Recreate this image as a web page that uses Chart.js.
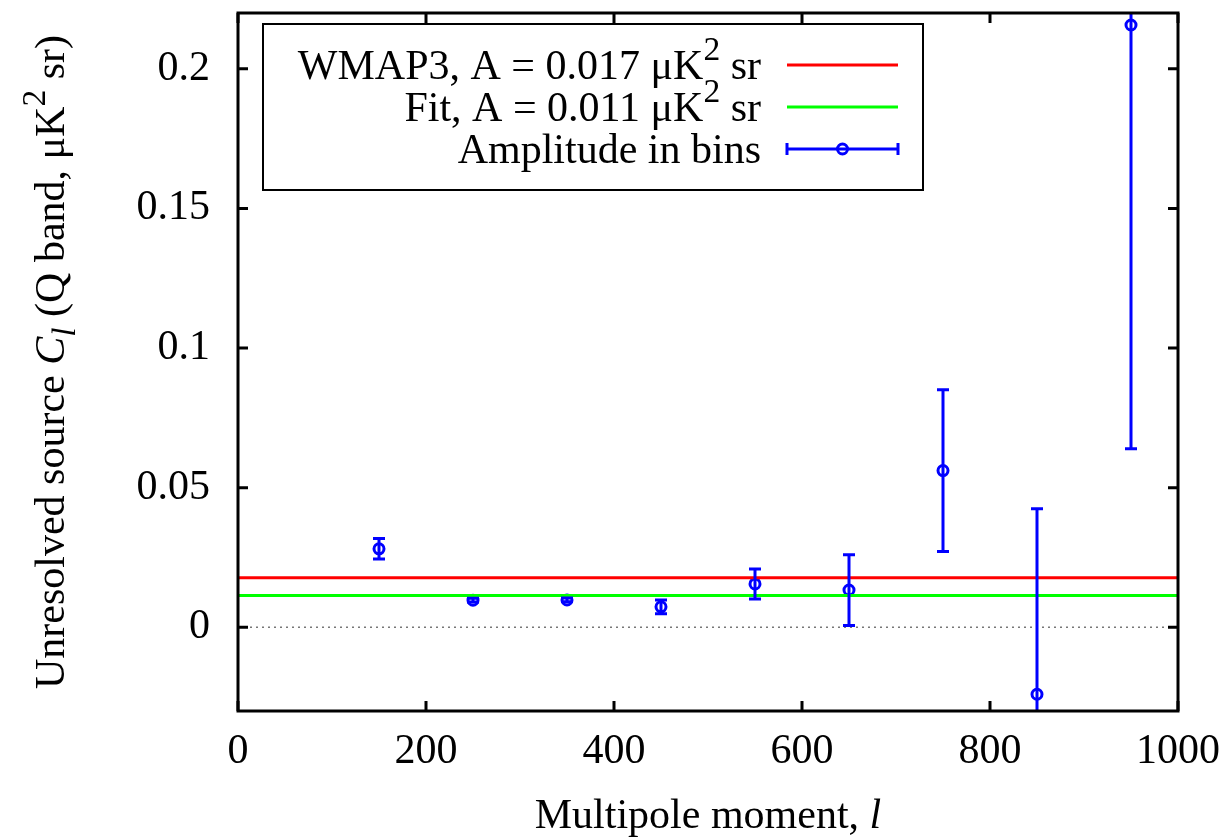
<!DOCTYPE html>
<html>
<head>
<meta charset="utf-8">
<script src="https://cdn.jsdelivr.net/npm/chart.js@4/dist/chart.umd.min.js"></script>
<style>
html,body{margin:0;padding:0;background:#fff;}
#wrap{width:1228px;height:839px;position:relative;}
</style>
</head>
<body>
<div id="wrap"><canvas id="c"></canvas></div>
<script>
// ---- data ----
const multipoles = [150, 250, 350, 450, 550, 650, 750, 850, 950];
const amplitudes = [0.0281, 0.0097, 0.0098, 0.0073, 0.0155, 0.0133, 0.0561, -0.0240, 0.2157];
const errors     = [0.0037, 0.0007, 0.0007, 0.0025, 0.0054, 0.0127, 0.0290, 0.0664, 0.1518];
const wmap3Level = 0.0177;
const fitLevel   = 0.0114;
const xRange = [0, 1000];
const yRange = [-0.03, 0.22];
const xTicks = [0, 200, 400, 600, 800, 1000];
const yTicks = [0, 0.05, 0.1, 0.15, 0.2];

// rich text pieces (i = italic; sup/sub positions)
const xTitle = [{t:'Multipole moment, '}, {t:'l', s:'i'}];
const yTitle = [{t:'Unresolved source '}, {t:'C', s:'i'}, {t:'l', s:'i', p:'sub'},
                {t:' (Q band, \u03BCK'}, {t:'2', p:'sup'}, {t:' sr)'}];
const legendRows = [
  {segs:[{t:'WMAP3, A = 0.017 \u03BCK'}, {t:'2', p:'sup'}, {t:' sr'}], color:'#ff0000', kind:'line'},
  {segs:[{t:'Fit, A = 0.011 \u03BCK'}, {t:'2', p:'sup'}, {t:' sr'}], color:'#00ff00', kind:'line'},
  {segs:[{t:'Amplitude in bins'}], color:'#0000ff', kind:'err'}
];

const FAMILY = '"Liberation Serif", "Times New Roman", serif';
const FS = 42;

function segFont(s, size){
  const sz = (s.p === 'sup' || s.p === 'sub') ? size * 0.8 : size;
  return (s.s === 'i' ? 'italic ' : '') + sz + 'px ' + FAMILY;
}
function richWidth(ctx, segs, size){
  let w = 0;
  for (const s of segs){ ctx.font = segFont(s, size); w += ctx.measureText(s.t).width; }
  return w;
}
function drawRich(ctx, segs, x, y, size, align){
  const w = richWidth(ctx, segs, size);
  let cx = align === 'right' ? x - w : (align === 'center' ? x - w / 2 : x);
  ctx.textBaseline = 'alphabetic';
  ctx.textAlign = 'left';
  for (const s of segs){
    ctx.font = segFont(s, size);
    const dy = s.p === 'sup' ? -0.45 * size : (s.p === 'sub' ? 0.25 * size : 0);
    ctx.fillText(s.t, cx, y + dy);
    cx += ctx.measureText(s.t).width;
  }
}

const decor = {
  id: 'decor',
  afterDatasetsDraw(chart){
    const ctx = chart.ctx, a = chart.chartArea;
    const xs = chart.scales.x, ys = chart.scales.y;
    ctx.save();
    ctx.beginPath();
    ctx.rect(a.left, a.top, a.right - a.left, a.bottom - a.top);
    ctx.clip();
    ctx.strokeStyle = '#0000ff';
    ctx.lineWidth = 3;
    const cap = 6;
    for (let i = 0; i < multipoles.length; i++){
      const px = xs.getPixelForValue(multipoles[i]);
      const y1 = ys.getPixelForValue(amplitudes[i] + errors[i]);
      const y2 = ys.getPixelForValue(amplitudes[i] - errors[i]);
      ctx.beginPath();
      ctx.moveTo(px, y1); ctx.lineTo(px, y2);
      ctx.moveTo(px - cap, y1); ctx.lineTo(px + cap, y1);
      ctx.moveTo(px - cap, y2); ctx.lineTo(px + cap, y2);
      ctx.stroke();
    }
    ctx.restore();
  },
  afterDraw(chart){
    const ctx = chart.ctx, a = chart.chartArea;
    const xs = chart.scales.x, ys = chart.scales.y;
    ctx.save();
    // border
    ctx.strokeStyle = '#000';
    ctx.lineWidth = 3;
    ctx.strokeRect(a.left, a.top, a.right - a.left, a.bottom - a.top);
    // inward ticks, mirrored
    const tl = 10;
    ctx.beginPath();
    for (const v of xTicks){
      const px = xs.getPixelForValue(v);
      ctx.moveTo(px, a.bottom); ctx.lineTo(px, a.bottom - tl);
      ctx.moveTo(px, a.top); ctx.lineTo(px, a.top + tl);
    }
    for (const v of yTicks){
      const py = ys.getPixelForValue(v);
      ctx.moveTo(a.left, py); ctx.lineTo(a.left + tl, py);
      ctx.moveTo(a.right, py); ctx.lineTo(a.right - tl, py);
    }
    ctx.stroke();

    // legend box
    const lx = 263, ly = 24, lw = 660, lh = 166;
    ctx.fillStyle = '#fff';
    ctx.fillRect(lx, ly, lw, lh);
    ctx.lineWidth = 2;
    ctx.strokeStyle = '#000';
    ctx.strokeRect(lx, ly, lw, lh);
    const rowY = [65, 107, 149];
    const textRight = 761, s1 = 787, s2 = 898;
    legendRows.forEach((r, i) => {
      const cy = rowY[i];
      ctx.fillStyle = '#000';
      drawRich(ctx, r.segs, textRight, cy + 14, FS, 'right');
      ctx.strokeStyle = r.color;
      ctx.lineWidth = 3;
      ctx.beginPath();
      ctx.moveTo(s1, cy); ctx.lineTo(s2, cy);
      if (r.kind === 'err'){
        ctx.moveTo(s1, cy - 6); ctx.lineTo(s1, cy + 6);
        ctx.moveTo(s2, cy - 6); ctx.lineTo(s2, cy + 6);
      }
      ctx.stroke();
      if (r.kind === 'err'){
        ctx.lineWidth = 3;
        ctx.beginPath();
        ctx.arc((s1 + s2) / 2, cy, 5, 0, Math.PI * 2);
        ctx.stroke();
      }
    });

    // axis titles
    ctx.fillStyle = '#000';
    drawRich(ctx, xTitle, (a.left + a.right) / 2, 828, FS, 'center');
    ctx.translate(64, (a.top + a.bottom) / 2);
    ctx.rotate(-Math.PI / 2);
    drawRich(ctx, yTitle, 0, 0, FS, 'center');
    ctx.restore();
  }
};

const tickFont = {family: FAMILY, size: FS};

new Chart(document.getElementById('c'), {
  type: 'scatter',
  data: {
    datasets: [
      {label: 'zero', data: xRange.map(x => ({x, y: 0})), showLine: true,
       borderColor: '#777777', borderWidth: 1.3, borderDash: [2, 4], pointRadius: 0},
      {label: 'WMAP3', data: xRange.map(x => ({x, y: wmap3Level})), showLine: true,
       borderColor: '#ff0000', borderWidth: 3, pointRadius: 0},
      {label: 'Fit', data: xRange.map(x => ({x, y: fitLevel})), showLine: true,
       borderColor: '#00ff00', borderWidth: 3, pointRadius: 0},
      {label: 'Amplitude in bins', data: multipoles.map((x, i) => ({x, y: amplitudes[i]})),
       showLine: false, pointStyle: 'circle', pointRadius: 5, pointBorderWidth: 3,
       pointBorderColor: '#0000ff', pointBackgroundColor: 'rgba(0,0,0,0)'}
    ]
  },
  options: {
    responsive: true,
    maintainAspectRatio: false,
    animation: false,
    events: [],
    layout: {padding: {left: 0, right: 50, top: 13, bottom: 0}},
    plugins: {legend: {display: false}, tooltip: {enabled: false}},
    scales: {
      x: {
        type: 'linear', min: xRange[0], max: xRange[1],
        afterBuildTicks: s => { s.ticks = xTicks.map(v => ({value: v})); },
        afterFit: s => { s.height = 128; s.paddingLeft = 0; s.paddingRight = 0; s.paddingTop = 0; s.paddingBottom = 0; },
        grid: {display: false, drawTicks: false},
        border: {display: false},
        ticks: {font: tickFont, color: '#000', padding: 16, maxRotation: 0, autoSkip: false,
                callback: v => String(v)}
      },
      y: {
        type: 'linear', min: yRange[0], max: yRange[1],
        afterBuildTicks: s => { s.ticks = yTicks.map(v => ({value: v})); },
        afterFit: s => { s.width = 238; s.paddingLeft = 0; s.paddingRight = 0; s.paddingTop = 0; s.paddingBottom = 0; },
        grid: {display: false, drawTicks: false},
        border: {display: false},
        ticks: {font: tickFont, color: '#000', padding: 28, autoSkip: false,
                callback: v => String(+Number(v).toFixed(2))}
      }
    }
  },
  plugins: [decor]
});
</script>
</body>
</html>
